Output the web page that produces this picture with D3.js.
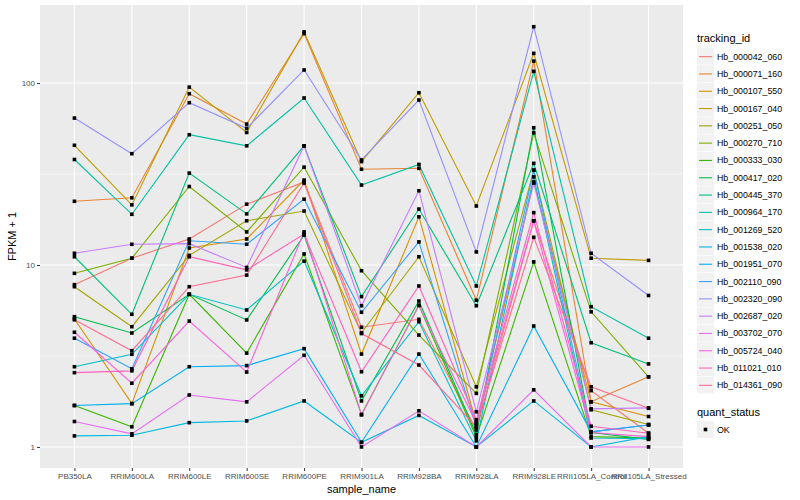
<!DOCTYPE html>
<html>
<head>
<meta charset="utf-8">
<script src="https://cdn.jsdelivr.net/npm/d3@7"></script>
<style>
  body { margin: 0; background: #fff; }
  text { font-family: "Liberation Sans", Arial, sans-serif; }
</style>
</head>
<body>
<div id="chart"></div>
<script>
// sample names on the x axis
var samples = ["PB350LA", "RRIM600LA", "RRIM600LE", "RRIM600SE", "RRIM600PE", "RRIM901LA",
  "RRIM928BA", "RRIM928LA", "RRIM928LE", "RRII105LA_Control", "RRII105LA_Stressed"];

var tracking_ids = ["Hb_000042_060", "Hb_000071_160", "Hb_000107_550", "Hb_000167_040", "Hb_000251_050",
  "Hb_000270_710", "Hb_000333_030", "Hb_000417_020", "Hb_000445_370", "Hb_000964_170",
  "Hb_001269_520", "Hb_001538_020", "Hb_001951_070", "Hb_002110_090", "Hb_002320_090",
  "Hb_002687_020", "Hb_003702_070", "Hb_005724_040", "Hb_011021_010", "Hb_014361_090"];

var colors = ["#F8766D", "#EA8331", "#D89000", "#C09B00", "#A3A500", "#7CAE00", "#39B600", "#00BB4E",
  "#00BF7D", "#00C1A3", "#00BFC4", "#00BAE0", "#00B0F6", "#35A2FF", "#9590FF", "#C77CFF",
  "#E76BF3", "#FA62DB", "#FF62BC", "#FF6C91"];

// FPKM + 1 per gene, one value per sample
var fpkm = [
  [7.8, 10.9, 13.9, 21.6, 28.6, 4.55, 5.03, 1.24, 17.5, 2.04, 1.19],
  [22.4, 23.4, 87.4, 59.5, 187, 33.6, 34, 6.4, 132, 1.77, 2.43],
  [5.05, 1.73, 12.4, 13.9, 29.3, 3.24, 18.4, 1.35, 28.6, 1.77, 1.47],
  [45.5, 21.4, 95, 53.5, 191, 37, 88.5, 21.1, 145.6, 10.9, 10.6],
  [7.6, 4.58, 11.3, 17.5, 19.8, 4.24, 11.1, 2.14, 33.2, 1.6, 1.33],
  [9.0, 10.9, 27, 15.2, 34.5, 9.3, 4.12, 1.97, 53.3, 5.53, 2.43],
  [1.69, 1.29, 6.9, 3.28, 11.5, 1.51, 6.0, 1.13, 10.4, 1.14, 1.12],
  [5.2, 4.23, 6.9, 4.99, 14.6, 1.79, 6.34, 1.17, 56.8, 1.2, 1.1],
  [11.1, 5.36, 32, 19.1, 45.2, 6.7, 20.3, 5.97, 36.2, 3.74, 2.86],
  [38, 19, 52, 45.2, 82.8, 27.5, 35.7, 7.67, 116, 5.9, 3.96],
  [2.76, 3.23, 6.9, 5.66, 10.5, 1.91, 4.88, 1.08, 30.5, 1.12, 1.11],
  [1.15, 1.16, 1.36, 1.39, 1.79, 1.06, 1.49, 1.0, 1.79, 1.0, 1.14],
  [1.69, 1.73, 2.76, 2.8, 3.47, 1.06, 3.24, 1.0, 4.62, 1.21, 1.32],
  [3.96, 2.69, 13.6, 13.0, 23, 5.5, 13.4, 1.29, 33.2, 1.21, 1.32],
  [64.2, 40.9, 78, 56.4, 118, 37.8, 80.7, 11.8, 204, 11.6, 6.8],
  [11.6, 13.0, 13.1, 9.7, 45.2, 5.97, 25.6, 1.56, 28.2, 1.62, 1.64],
  [1.38, 1.18, 1.93, 1.77, 3.19, 1.0, 1.58, 1.0, 2.06, 1.0, 1.0],
  [4.27, 2.24, 4.92, 2.58, 15.2, 1.5, 6.0, 1.35, 17.5, 1.2, 1.14],
  [2.56, 2.62, 11.1, 9.4, 14.8, 2.59, 7.67, 1.41, 19.4, 1.3, 1.19],
  [5.0, 3.38, 7.6, 8.8, 28.2, 4.2, 2.82, 1.29, 14.2, 2.14, 1.63]
];

var y_ticks = [1, 10, 100];
var y_minor = [Math.sqrt(10), Math.sqrt(1000)];

var width = 800, height = 500;
var panel = { left: 40, right: 683, top: 5, bottom: 468 };

var svg = d3.select("#chart").append("svg")
  .attr("width", width)
  .attr("height", height);

var x = d3.scalePoint()
  .domain(samples)
  .range([panel.left, panel.right])
  .padding(0.6);

var y = d3.scaleLog()
  .domain([Math.pow(10, -0.1157), Math.pow(10, 2.429)])
  .range([panel.bottom, panel.top]);

// panel background
svg.append("rect")
  .attr("x", panel.left).attr("y", panel.top)
  .attr("width", panel.right - panel.left)
  .attr("height", panel.bottom - panel.top)
  .attr("fill", "#EBEBEB");

var grid = svg.append("g");
grid.selectAll(".minor")
  .data(y_minor).enter().append("line")
  .attr("x1", panel.left).attr("x2", panel.right)
  .attr("y1", function(d) { return y(d); })
  .attr("y2", function(d) { return y(d); })
  .attr("stroke", "#fff").attr("stroke-width", 0.55);
grid.selectAll(".major")
  .data(y_ticks).enter().append("line")
  .attr("x1", panel.left).attr("x2", panel.right)
  .attr("y1", function(d) { return y(d); })
  .attr("y2", function(d) { return y(d); })
  .attr("stroke", "#fff").attr("stroke-width", 1.1);
grid.selectAll(".xgrid")
  .data(samples).enter().append("line")
  .attr("x1", function(d) { return x(d); })
  .attr("x2", function(d) { return x(d); })
  .attr("y1", panel.top).attr("y2", panel.bottom)
  .attr("stroke", "#fff").attr("stroke-width", 1.1);

// lines
var line = d3.line()
  .x(function(d, i) { return x(samples[i]); })
  .y(function(d) { return y(d); });

svg.append("g").selectAll("path")
  .data(fpkm).enter().append("path")
  .attr("d", function(d) { return line(d); })
  .attr("fill", "none")
  .attr("stroke", function(d, i) { return colors[i]; })
  .attr("stroke-width", 1.1);

// points
var pts = [];
fpkm.forEach(function(row) {
  row.forEach(function(v, j) { pts.push({ s: samples[j], v: v }); });
});
svg.append("g").selectAll("rect")
  .data(pts).enter().append("rect")
  .attr("x", function(d) { return x(d.s) - 1.8; })
  .attr("y", function(d) { return y(d.v) - 1.8; })
  .attr("width", 3.6).attr("height", 3.6)
  .attr("fill", "#000");

// axes
var xAxis = svg.append("g")
  .attr("transform", "translate(0," + panel.bottom + ")")
  .call(d3.axisBottom(x).tickSizeInner(3).tickSizeOuter(0).tickPadding(2));
var yAxis = svg.append("g")
  .attr("transform", "translate(" + panel.left + ",0)")
  .call(d3.axisLeft(y).tickValues(y_ticks).tickFormat(d3.format("d"))
    .tickSizeInner(3).tickSizeOuter(0).tickPadding(2));
[xAxis, yAxis].forEach(function(a) {
  a.select(".domain").remove();
  a.selectAll(".tick line").attr("stroke", "#333333").attr("stroke-width", 1);
  a.selectAll(".tick text").attr("fill", "#4D4D4D").style("font-size", "8px")
    .style("font-family", "'Liberation Sans', Arial, sans-serif");
});

svg.append("text")
  .attr("x", (panel.left + panel.right) / 2).attr("y", 493)
  .attr("text-anchor", "middle").style("font-size", "11px")
  .text("sample_name");
svg.append("text")
  .attr("transform", "translate(16," + ((panel.top + panel.bottom) / 2) + ") rotate(-90)")
  .attr("text-anchor", "middle").style("font-size", "11px")
  .text("FPKM + 1");

// legend
var leg = svg.append("g");
var keyTop = 48, keyH = 17.3, keyX = 697;
leg.append("text").attr("x", keyX).attr("y", 42).style("font-size", "11px").text("tracking_id");
var items = leg.selectAll(".item")
  .data(tracking_ids).enter().append("g")
  .attr("transform", function(d, i) { return "translate(" + keyX + "," + (keyTop + i * keyH) + ")"; });
items.append("rect")
  .attr("width", 17).attr("height", keyH - 0.6)
  .attr("fill", "#F2F2F2");
items.append("line")
  .attr("x1", 2).attr("x2", 15)
  .attr("y1", keyH / 2).attr("y2", keyH / 2)
  .attr("stroke", function(d, i) { return colors[i]; })
  .attr("stroke-width", 1.1);
items.append("text")
  .attr("x", 20).attr("y", keyH / 2 + 3)
  .style("font-size", "8.8px")
  .text(function(d) { return d; });

leg.append("text").attr("x", keyX).attr("y", 416).style("font-size", "11px").text("quant_status");
var ok = leg.append("g").attr("transform", "translate(" + keyX + ",421)");
ok.append("rect").attr("width", 17).attr("height", 17).attr("fill", "#F2F2F2");
ok.append("rect").attr("x", 6.7).attr("y", 6.7).attr("width", 3.6).attr("height", 3.6).attr("fill", "#000");
ok.append("text").attr("x", 20).attr("y", 11.5).style("font-size", "8.8px").text("OK");
</script>
</body>
</html>
